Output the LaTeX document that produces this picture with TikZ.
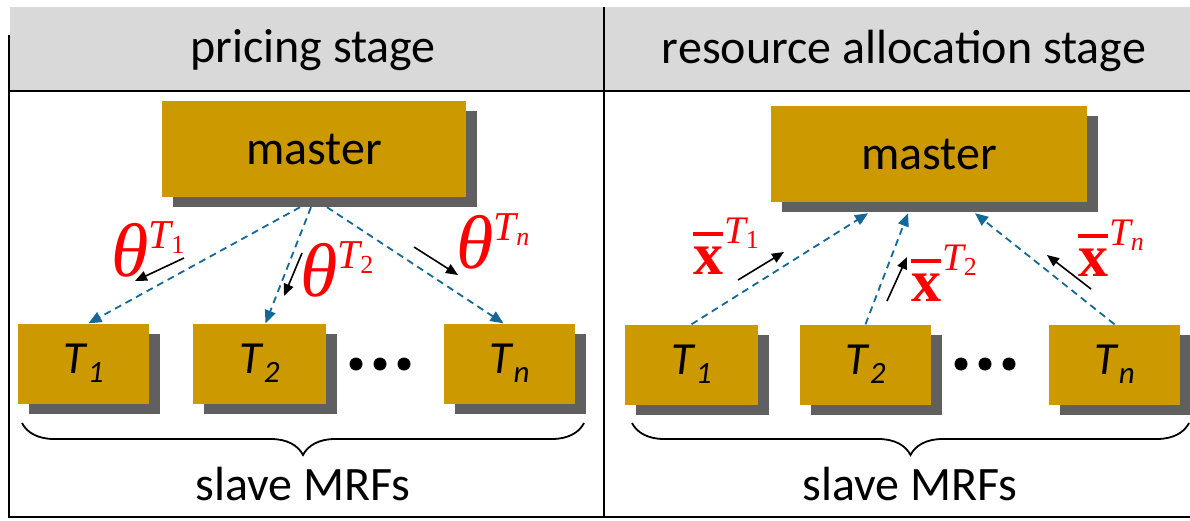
\documentclass[tikz,border=0pt]{standalone}
\usepackage{fontspec}
\setmainfont{Carlito}
\newfontfamily\tnr{Liberation Serif}
\usetikzlibrary{arrows.meta,decorations.pathreplacing,shadows}
\definecolor{gold}{HTML}{CC9900}
\definecolor{shade}{HTML}{606060}
\definecolor{hdr}{HTML}{D9D9D9}
\definecolor{lnblue}{RGB}{20,104,152}
\newcommand{\Tsub}[1]{{\fontsize{46}{50}\selectfont\itshape T\kern2pt\raisebox{-9pt}{\fontsize{31}{31}\selectfont #1}}}
\newcommand{\supT}[3]{\raisebox{#1}{\tnr\fontsize{#2}{#2}\selectfont\itshape T\raisebox{-5pt}{\fontsize{26}{26}\selectfont\upshape #3}}}
\newcommand{\thlab}[1]{{\tnr\fontsize{76}{76}\selectfont\itshape θ}\supT{28pt}{41}{#1}}
\newcommand{\xlab}[1]{\setbox0\hbox{\tnr\bfseries\fontsize{60}{60}\selectfont x}\rlap{\raisebox{38pt}{\rule{\wd0}{4pt}}}\box0\kern1pt\supT{31pt}{39}{#1}}
\begin{document}
\begin{tikzpicture}[x=1pt,y=-1pt,
  txt/.style={font=\fontsize{48}{56}\selectfont},
  box/.style={fill=gold, inner sep=0pt, drop shadow={shadow xshift=11pt, shadow yshift=-10pt, fill=shade, opacity=1}},
  mbox/.style={box, txt},
  tbox/.style={box, minimum height=80pt, minimum width=132pt},
  lnk/.style={lnblue, line width=1.8pt, dash pattern=on 7pt off 5pt, -{Triangle[length=13pt,width=11pt]}},
  blk/.style={black, line width=1.6pt, -{Triangle[length=12pt,width=10pt]}},
  lab/.style={anchor=base west, inner sep=0pt, text=red},
  brc/.style={line width=1.8pt, decorate, decoration={brace, amplitude=32pt}},
  frame/.style={line width=2pt}]
\useasboundingbox (0,0) rectangle (1190,520);
% frame
\fill[hdr] (10,7) rectangle (1190,91);
\draw[frame] (10,91) -- (1190,91);
\draw[frame] (9,35) -- (9,518);
\draw[frame] (604,7) -- (604,518);
\draw[frame] (8,517) -- (1190,517);
\node[txt, anchor=base] (H1) at (313,62) {pricing stage};
\node[txt, anchor=base] (H2) at (904,63) {resource allocation stage};
% left panel
\node[mbox, minimum width=304pt, minimum height=96pt] (M1) at (314,149) {master};
\node[tbox, minimum width=131pt] (T1) at (83.5,363.5) {\Tsub{1}};
\node[tbox, minimum width=133pt] (T2) at (259.5,363.5) {\Tsub{2}};
\node[tbox, minimum width=131pt] (Tn) at (509.5,363.5) {\Tsub{n}};
\fill (356,364) circle (6.5pt) (380,364) circle (6.5pt) (404,364) circle (6.5pt);
\draw[lnk] ([xshift=-14pt,yshift=-10pt]M1.south) -- ([xshift=5pt]T1.north);
\draw[lnk] ([xshift=-3pt,yshift=-10pt]M1.south) -- ([xshift=6pt]T2.north);
\draw[lnk] ([xshift=13pt,yshift=-10pt]M1.south) -- ([xshift=-6pt]Tn.north);
\coordinate (a1s) at (184,258); \coordinate (a1e) at (135,281);
\coordinate (a2s) at (302,253); \coordinate (a2e) at (284,296);
\coordinate (a3s) at (414,247); \coordinate (a3e) at (458,275);
\draw[blk] (a1s) -- (a1e);
\draw[blk] (a2s) -- (a2e);
\draw[blk] (a3s) -- (a3e);
\node[lab] (L1) at (111,276) {\thlab{1}};
\node[lab] (L2) at (300,296) {\thlab{2}};
\node[lab] (L3) at (456,268) {\thlab{\itshape n}};
\coordinate (b1r) at (584,423); \coordinate (b1l) at (22,423);
\draw[brc] (b1r) -- (b1l);
\node[txt, anchor=base] (S1) at (303,500) {slave MRFs};
% right panel
\node[mbox, minimum width=316pt, minimum height=96pt] (M2) at (929,154) {master};
\node[tbox, minimum width=133pt] (R1) at (691.5,364.5) {\Tsub{1}};
\node[tbox, minimum width=131pt] (R2) at (865.5,364.5) {\Tsub{2}};
\node[tbox, minimum width=131pt] (Rn) at (1114.5,364.5) {\Tsub{n}};
\fill (961,364) circle (6.5pt) (985,364) circle (6.5pt) (1009,364) circle (6.5pt);
\draw[lnk] (R1.north) -- ([xshift=-61pt,yshift=-11pt]M2.south);
\draw[lnk] (R2.north) -- ([xshift=-21pt,yshift=-11pt]M2.south);
\draw[lnk] (Rn.north) -- ([xshift=46pt,yshift=-11pt]M2.south);
\coordinate (c1s) at (738,280); \coordinate (c1e) at (784,252);
\coordinate (c2s) at (887,301); \coordinate (c2e) at (907,257);
\coordinate (c3s) at (1091,289); \coordinate (c3e) at (1047,255);
\draw[blk] (c1s) -- (c1e);
\draw[blk] (c2s) -- (c2e);
\draw[blk] (c3s) -- (c3e);
\node[lab] (X1) at (693,274) {\xlab{1}};
\node[lab] (X2) at (911,301) {\xlab{2}};
\node[lab] (X3) at (1078,276) {\xlab{\itshape n}};
\coordinate (b2r) at (1189,423); \coordinate (b2l) at (632,423);
\draw[brc] (b2r) -- (b2l);
\node[txt, anchor=base] (S2) at (910,500) {slave MRFs};
\end{tikzpicture}
\end{document}
